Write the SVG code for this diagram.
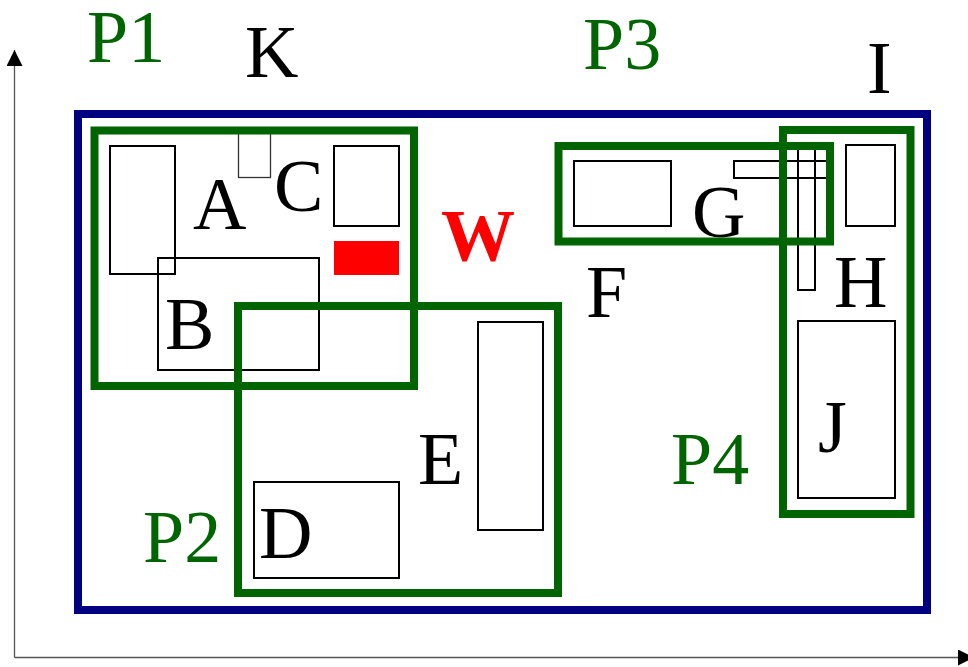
<svg xmlns="http://www.w3.org/2000/svg" width="968" height="667" viewBox="0 0 968 667">
<style>
.t{font-family:"Liberation Serif","Times New Roman",serif;font-size:74px;fill:#000}
.g{fill:#006400}
.w{fill:#ff0000;font-weight:bold}
.box{fill:none;stroke:#000;stroke-width:2}
.grp{fill:none;stroke:#006400;stroke-width:8}
.ax{stroke:#555;stroke-width:1.3;fill:none}
</style>
<defs>
<marker id="ar" viewBox="0 0 10 10" refX="10" refY="5" markerWidth="16" markerHeight="16" markerUnits="userSpaceOnUse" orient="auto">
<path d="M0,0 L10,5 L0,10 Z" fill="#000"/>
</marker>
</defs>
<g id="axes">
<line class="ax" x1="14.5" y1="657.5" x2="14.5" y2="50" marker-end="url(#ar)"/>
<line class="ax" x1="14.5" y1="657.5" x2="974" y2="657.5" marker-end="url(#ar)"/>
</g>
<g id="frame"><rect x="78" y="114" width="849" height="496" fill="none" stroke="#000080" stroke-width="8"/></g>
<g id="A"><rect class="box" x="110" y="146" width="65" height="128"/><text class="t" x="193" y="229">A</text></g>
<g id="K"><rect x="238.5" y="129.5" width="32" height="48" fill="none" stroke="#333" stroke-width="1.3"/><text class="t" x="245" y="77">K</text></g>
<g id="C"><rect class="box" x="334" y="146" width="65" height="80"/><text class="t" x="274" y="211">C</text></g>
<g id="W"><rect x="334" y="241" width="65" height="34" fill="#ff0000"/><text class="t w" x="441" y="261">W</text></g>
<g id="B"><rect class="box" x="158" y="258" width="161" height="112"/><text class="t" x="165" y="349">B</text></g>
<g id="D"><rect class="box" x="254" y="482" width="145" height="96"/><text class="t" x="259" y="558">D</text></g>
<g id="E"><rect class="box" x="478" y="322" width="65" height="208"/><text class="t" x="418" y="484">E</text></g>
<g id="F"><text class="t" x="586" y="317">F</text></g>
<g id="G"><rect class="box" x="574" y="161" width="97" height="65"/><rect class="box" x="734" y="161" width="97" height="17"/><text class="t" x="692" y="237">G</text></g>
<g id="H"><rect class="box" x="798" y="145" width="17" height="145"/><rect class="box" x="846" y="145" width="49" height="81"/><text class="t" x="834" y="307">H</text></g>
<g id="I"><text class="t" x="867" y="93">I</text></g>
<g id="J"><rect class="box" x="798" y="321" width="97" height="177"/><text class="t" x="818" y="452">J</text></g>
<g id="P1"><rect class="grp" x="94.5" y="130.5" width="319.5" height="255.5"/><text class="t g" x="87" y="62">P1</text></g>
<g id="P2"><rect class="grp" x="238" y="306" width="320" height="287"/><text class="t g" x="143" y="562">P2</text></g>
<g id="P3"><rect class="grp" x="558.5" y="146" width="271.5" height="95.5"/><text class="t g" x="583" y="69">P3</text></g>
<g id="P4"><rect class="grp" x="783" y="130" width="127.5" height="384"/><text class="t g" x="671" y="484">P4</text></g>
</svg>
